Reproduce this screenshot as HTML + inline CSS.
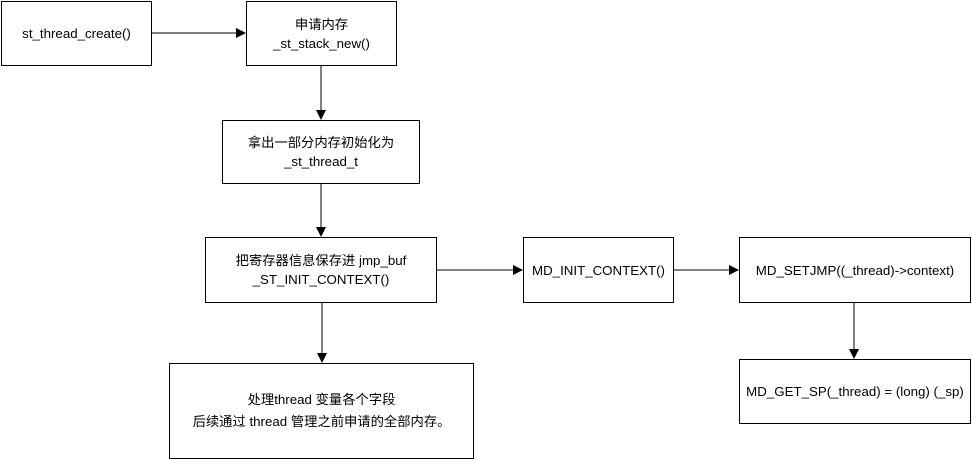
<!DOCTYPE html>
<html><head><meta charset="utf-8"><style>
body{margin:0;width:972px;height:460px;background:#fff;overflow:hidden;position:relative;font-family:"Liberation Sans","Noto Sans CJK SC",sans-serif;font-size:13.3px;color:#000}
.b{position:absolute;border:1px solid #000;box-sizing:border-box;display:flex;flex-direction:column;justify-content:center;align-items:center;text-align:center;line-height:19px;background:#fff}
svg{position:absolute;left:0;top:0}
</style></head><body>
<svg width="972" height="460">
<defs><marker id="a" markerWidth="10" markerHeight="10" refX="9" refY="5" orient="auto" markerUnits="userSpaceOnUse"><path d="M0,0 L10,5 L0,10z" fill="#000"/></marker></defs>
<g stroke="#000" stroke-width="1">
<line x1="152" y1="33" x2="245" y2="33" marker-end="url(#a)"/>
<line x1="321" y1="65" x2="321" y2="119" marker-end="url(#a)"/>
<line x1="321" y1="183" x2="321" y2="236" marker-end="url(#a)"/>
<line x1="322" y1="302" x2="322" y2="362" marker-end="url(#a)"/>
<line x1="437" y1="270" x2="522" y2="270" marker-end="url(#a)"/>
<line x1="673" y1="270" x2="738" y2="270" marker-end="url(#a)"/>
<line x1="854" y1="302" x2="854" y2="358" marker-end="url(#a)"/>
</g></svg>
<div class="b" style="left:1px;top:1px;width:151px;height:65px">st_thread_create()</div>
<div class="b" style="left:246px;top:1px;width:151px;height:65px"><div>申请内存</div><div>_st_stack_new()</div></div>
<div class="b" style="left:222px;top:120px;width:198px;height:64px"><div>拿出一部分内存初始化为</div><div>_st_thread_t</div></div>
<div class="b" style="left:205px;top:237px;width:232px;height:66px"><div>把寄存器信息保存进 jmp_buf</div><div>_ST_INIT_CONTEXT()</div></div>
<div class="b" style="left:523px;top:237px;width:151px;height:66px">MD_INIT_CONTEXT()</div>
<div class="b" style="left:739px;top:237px;width:232px;height:66px">MD_SETJMP((_thread)-&gt;context)</div>
<div class="b" style="left:739px;top:359px;width:232px;height:65px">MD_GET_SP(_thread) = (long) (_sp)</div>
<div class="b" style="left:169px;top:363px;width:305px;height:96px;line-height:22px"><div>处理thread 变量各个字段</div><div>后续通过 thread 管理之前申请的全部内存。</div></div>
</body></html>
